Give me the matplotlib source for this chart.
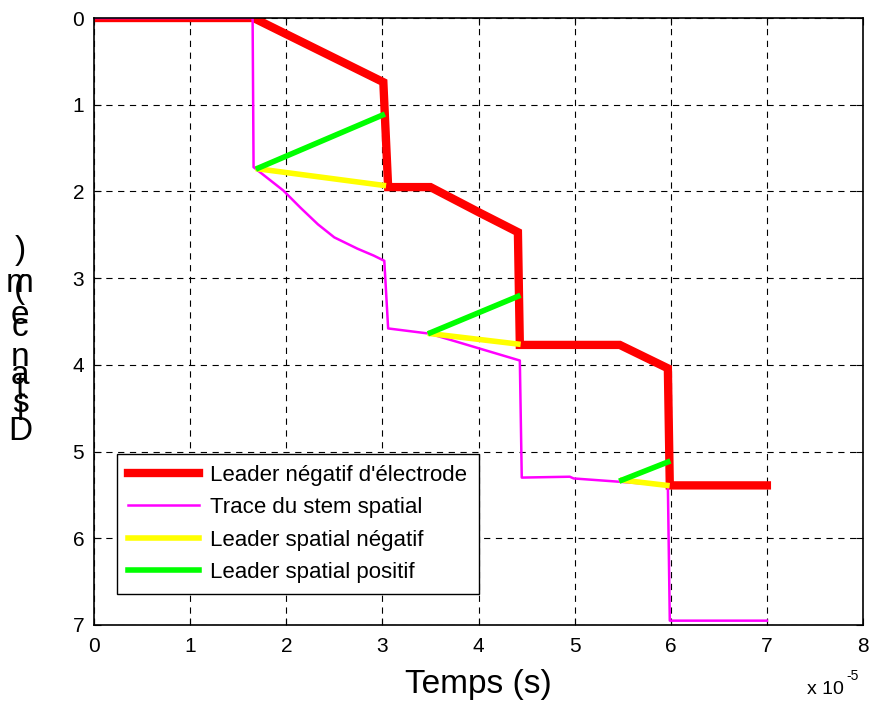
import matplotlib
matplotlib.use('Agg')
import matplotlib.pyplot as plt
import numpy as np

# time in units of 1e-5 s, distance in m
red_t = [0, 1.66, 3.01, 3.06, 3.50, 4.02, 4.41, 4.43, 5.47, 5.97, 5.99, 7.0]
red_d = [0, 0, 0.74, 1.95, 1.95, 2.25, 2.47, 3.77, 3.77, 4.04, 5.39, 5.39]

mag_t = [0, 1.65, 1.66, 1.97, 2.15, 2.33, 2.50, 2.74, 2.91, 3.02, 3.06, 3.49,
         4.43, 4.45, 4.95, 4.99, 5.49, 5.97, 5.99, 7.0]
mag_d = [0, 0, 1.72, 1.99, 2.19, 2.38, 2.53, 2.66, 2.74, 2.80, 3.58, 3.64,
         3.95, 5.30, 5.29, 5.31, 5.35, 5.39, 6.95, 6.95]

yel_t = [1.71, 3.01, np.nan, 3.50, 4.41, np.nan, 5.50, 5.96]
yel_d = [1.74, 1.93, np.nan, 3.64, 3.76, np.nan, 5.33, 5.39]

grn_t = [1.71, 3.00, np.nan, 3.50, 4.41, np.nan, 5.49, 5.97]
grn_d = [1.73, 1.12, np.nan, 3.63, 3.21, np.nan, 5.33, 5.12]

labels = ["Leader négatif d'électrode", "Trace du stem spatial",
          "Leader spatial négatif", "Leader spatial positif"]

ylabel_chars = [(')', 251), ('m', 284), ('(', 290), ('e', 315), ('c', 327),
                ('n', 357), ('a', 375), ('t', 388), ('s', 403), ('i', 412), ('D', 432)]


def main():
    plt.rcParams['font.family'] = ['Liberation Sans', 'DejaVu Sans']
    plt.rcParams['lines.scale_dashes'] = False
    W, H = 873, 702
    fig = plt.figure(figsize=(8.73, 7.02), dpi=100)
    ax = fig.add_axes([94 / W, 1 - 625 / H, (863 - 94) / W, (625 - 18) / H])

    ax.plot(red_t, red_d, color='#ff0000', lw=6, solid_joinstyle='miter', label=labels[0])
    ax.plot(mag_t, mag_d, color='#ff00ff', lw=1.8, label=labels[1])
    ax.plot(yel_t, yel_d, color='#ffff00', lw=4, label=labels[2])
    ax.plot(grn_t, grn_d, color='#00ff00', lw=4, label=labels[3])

    ax.set_xlim(0, 8)
    ax.set_ylim(7, 0)
    ax.set_xticks(range(0, 9))
    ax.set_yticks(range(0, 8))
    ax.tick_params(direction='in', top=True, right=True, labelsize=15, length=5)
    ax.tick_params(axis='x', pad=9)
    ax.tick_params(axis='y', pad=7)
    ax.grid(True, color='black', lw=0.8, linestyle=(0, (4.5, 4)))
    for s in ax.spines.values():
        s.set_linewidth(1.2)

    ax.set_xlabel('Temps (s)', fontsize=24, labelpad=9)
    fig.text(807 / W, 1 - 690 / H, 'x 10', fontsize=14, ha='left', va='center')
    fig.text(846 / W, 1 - 676 / H, '-5', fontsize=10, ha='left', va='center')

    for ch, ypx in ylabel_chars:
        fig.text(20 / W, 1 - ypx / H, ch, fontsize=24, ha='center', va='center')

    leg = ax.legend(loc='lower left', bbox_to_anchor=(0.030, 0.051), borderaxespad=0,
                    fontsize=16, fancybox=False, framealpha=1, edgecolor='black',
                    handlelength=3.2, labelspacing=0.51, borderpad=0.5, handletextpad=0.5)
    leg.get_frame().set_linewidth(1.0)

    fig.savefig('out.png', dpi=100)


if __name__ == '__main__':
    main()
